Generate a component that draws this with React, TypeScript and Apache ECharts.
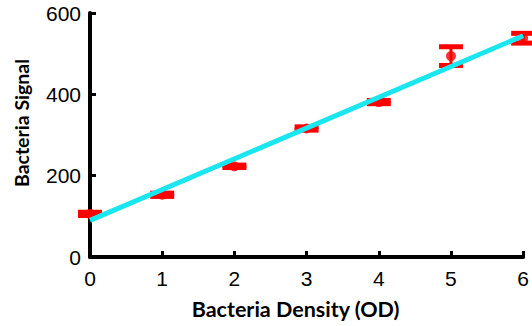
import React, { useEffect, useRef } from "react";
import * as echarts from "echarts";

const densities = [0, 1, 2, 3, 4, 5, 6];
const signals = [106, 153, 223, 316, 381, 494, 538];
const errors = [4, 4, 3, 4, 4, 23, 12];
const fitLine = [
  [0, 90],
  [6, 544],
];
const yTicks = [0, 200, 400, 600];

export default function App() {
  const ref = useRef<HTMLDivElement>(null);
  useEffect(() => {
    if (!ref.current) return;
    const chart = echarts.init(ref.current, undefined, { renderer: "svg" });
    const errData = densities.map((d, i) => [d, signals[i] - errors[i], signals[i] + errors[i]]);
    chart.setOption({
      animation: false,
      grid: { left: 90, right: 8, top: 13, bottom: 69 },
      xAxis: {
        type: "value",
        min: 0,
        max: 6,
        interval: 1,
        name: "Bacteria Density (OD)",
        nameLocation: "middle",
        nameGap: 41,
        nameTextStyle: {
          fontFamily: "Lato",
          fontWeight: "bold",
          fontSize: 21.5,
          color: "#000",
          padding: [0, 22, 0, 0],
        },
        axisLine: { show: true, lineStyle: { color: "#000", width: 4 } },
        axisTick: { show: true, inside: true, length: 6, lineStyle: { color: "#000", width: 3 } },
        axisLabel: { color: "#000", fontFamily: "Liberation Sans", fontSize: 21, margin: 11 },
        splitLine: { show: false },
      },
      yAxis: {
        type: "value",
        min: 0,
        max: 600,
        interval: 200,
        name: "Bacteria Signal",
        nameLocation: "middle",
        nameGap: 59,
        nameTextStyle: {
          fontFamily: "Lato",
          fontWeight: "bold",
          fontSize: 19.5,
          color: "#000",
          padding: [0, 0, 0, 24],
        },
        axisLine: { show: true, lineStyle: { color: "#000", width: 4 } },
        axisTick: { show: true, inside: true, length: 6, lineStyle: { color: "#000", width: 3 } },
        axisLabel: {
          color: "#000",
          fontFamily: "Liberation Sans",
          fontSize: 21,
          margin: 9,
          formatter: (v: number) => (yTicks.includes(v) ? String(v) : ""),
        },
        splitLine: { show: false },
      },
      series: [
        {
          type: "custom",
          data: errData,
          z: 3,
          renderItem: (params: any, api: any) => {
            const x = api.value(0);
            const lo = api.coord([x, api.value(1)]);
            const hi = api.coord([x, api.value(2)]);
            const hw = 12;
            const style = { stroke: "#ff0000", lineWidth: 5 };
            return {
              type: "group",
              children: [
                { type: "line", shape: { x1: lo[0], y1: lo[1], x2: hi[0], y2: hi[1] }, style: { stroke: "#ff0000", lineWidth: 3 } },
                { type: "line", shape: { x1: lo[0] - hw, y1: lo[1], x2: lo[0] + hw, y2: lo[1] }, style },
                { type: "line", shape: { x1: hi[0] - hw, y1: hi[1], x2: hi[0] + hw, y2: hi[1] }, style },
              ],
            };
          },
        },
        {
          type: "scatter",
          data: densities.map((d, i) => [d, signals[i]]),
          symbol: "circle",
          symbolSize: 10,
          itemStyle: { color: "#ff0000" },
          z: 3,
        },
        {
          type: "line",
          data: fitLine,
          showSymbol: false,
          symbol: "none",
          lineStyle: { color: "#19e6ee", width: 5 },
          z: 4,
        },
      ],
    });
    return () => chart.dispose();
  }, []);
  return <div ref={ref} style={{ width: 532, height: 326, position: "absolute", left: 0, top: 0 }} />;
}
